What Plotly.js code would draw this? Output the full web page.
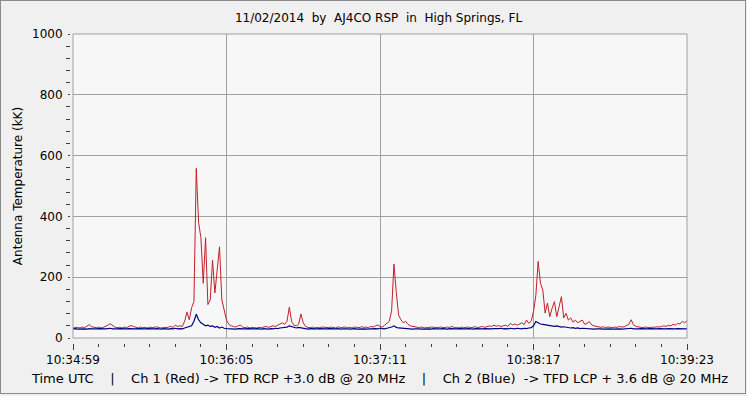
<!DOCTYPE html>
<html>
<head>
<meta charset="utf-8">
<script src="https://cdn.plot.ly/plotly-3.0.1.min.js"></script>
<style>
  html, body { margin: 0; padding: 0; background: #F0F0F0; }
  #chart { width: 747px; height: 396px; }
  #frame { position: absolute; left: 0; top: 0; width: 746px; height: 394px; box-sizing: border-box;
           border: 1px solid #8C8C8C; pointer-events: none; }
</style>
</head>
<body>
<div id="chart"></div>
<div id="frame"></div>
<script>
// ---- data (one sample per second, starting 10:34:59 UTC) ----
const tickLabels = ['10:34:59', '10:36:05', '10:37:11', '10:38:17', '10:39:23'];
const tickSeconds = [0, 66, 132, 198, 264];

// Ch 1 (Red) antenna temperature, kK
const ch1Red = [
  33,34,35,33,36,34,38,44,37,35,
  34,36,33,35,38,42,47,40,36,34,
  35,33,36,34,37,41,38,35,33,36,
  34,35,33,36,34,35,37,34,33,35,
  34,36,38,35,42,38,40,38,55,85,
  60,100,120,558,380,330,180,330,110,125,
  256,148,224,300,125,92,59,45,40,38,
  36,40,43,35,34,36,33,35,34,33,
  35,34,36,38,35,37,40,38,42,48,
  50,45,55,101,54,42,40,45,79,50,
  38,35,34,36,33,35,34,36,35,33,
  34,36,35,33,37,34,35,36,34,35,
  33,36,35,34,37,35,36,34,38,36,
  40,43,38,36,42,50,55,90,243,150,
  75,60,50,55,45,40,38,36,35,34,
  36,33,35,34,36,35,33,34,36,35,
  34,36,35,38,34,35,33,36,34,35,
  36,34,35,37,34,36,38,35,37,40,
  38,42,39,41,38,40,42,38,48,43,
  46,42,45,50,44,59,48,55,87,140,
  252,180,158,82,115,70,98,120,70,108,
  136,66,81,59,66,52,59,50,54,59,
  45,48,54,43,40,38,36,35,37,34,
  36,35,34,36,35,38,36,37,42,45,
  60,43,38,36,35,34,36,35,34,36,
  35,37,36,38,40,38,42,40,45,42,
  48,46,55,50,57
];

// Ch 2 (Blue) antenna temperature, kK
const ch2Blue = [
  30,31,29,30,31,30,29,31,30,29,
  30,31,30,29,30,31,32,30,29,30,
  31,30,29,30,31,30,29,30,31,30,
  29,30,31,30,29,30,31,30,29,31,
  30,29,31,30,32,30,31,30,33,35,
  38,40,55,78,60,50,45,40,42,38,
  40,35,38,33,36,32,31,30,31,30,
  29,31,30,29,30,31,30,29,30,31,
  30,29,31,30,29,31,30,32,31,33,
  34,35,36,40,38,34,33,35,34,31,
  30,29,31,30,29,30,31,30,29,30,
  31,30,29,30,31,29,30,31,30,29,
  30,31,29,30,31,30,29,30,31,30,
  31,30,32,31,30,32,33,36,40,35,
  33,32,31,30,31,30,29,30,31,30,
  29,30,31,30,29,31,30,29,30,31,
  30,29,31,30,29,30,31,30,29,30,
  31,30,29,31,30,29,30,31,30,31,
  30,31,30,31,32,30,31,30,32,31,
  30,32,31,30,32,31,33,34,40,54,
  50,46,45,44,42,40,39,38,40,37,
  36,37,35,34,33,34,32,33,31,32,
  31,30,31,30,29,30,31,30,29,30,
  31,30,29,30,31,30,29,30,31,30,
  32,30,29,30,31,30,29,30,31,30,
  29,30,31,30,29,30,31,30,31,30,
  31,30,31,30,31
];

// sample index = seconds since 10:34:59
const seconds = ch1Red.map((_, i) => i);

const NB = '\u00a0';
const gap = NB.repeat(4);
const titleText = '11/02/2014' + NB + NB + 'by' + NB + NB + 'AJ4CO RSP' + NB + NB + 'in' + NB + NB + 'High Springs, FL';
const xTitleText = 'Time UTC' + gap + '|' + gap +
  'Ch 1 (Red) -> TFD RCP +3.0 dB @ 20 MHz' + gap + '|' + gap +
  'Ch 2 (Blue)' + NB + NB + '-> TFD LCP + 3.6 dB @ 20 MHz';

const FONT = 'DejaVu Sans, Verdana, sans-serif';
const GRID = '#A0A0A0';
const TICK = '#404040';

const traces = [
  { x: seconds, y: ch1Red, type: 'scatter', mode: 'lines', name: 'Ch 1 (Red)',
    line: { color: '#C0202A', width: 1 }, hoverinfo: 'skip' },
  { x: seconds, y: ch2Blue, type: 'scatter', mode: 'lines', name: 'Ch 2 (Blue)',
    line: { color: '#000080', width: 1.2 }, hoverinfo: 'skip' }
];

const layout = {
  width: 747, height: 396,
  margin: { l: 70, r: 60, t: 34, b: 53, pad: 0 },
  paper_bgcolor: '#F0F0F0',
  plot_bgcolor: '#F7F7F7',
  showlegend: false,
  font: { family: FONT, size: 12, color: '#000000' },
  title: { text: titleText, font: { family: FONT, size: 12, color: '#000000' },
           x: 0.5, xref: 'paper', xanchor: 'center', y: 1 - 18 / 396, yref: 'container', yanchor: 'middle' },
  xaxis: {
    range: [0, 264], domain: [3 / 617, 1], anchor: 'free', position: 0,
    showline: false, zeroline: false,
    showgrid: true, gridcolor: GRID, gridwidth: 1,
    tickmode: 'array', tickvals: tickSeconds, ticktext: tickLabels,
    ticks: 'outside', ticklen: 6, tickwidth: 1, tickcolor: TICK,
    minor: { tickmode: 'linear', tick0: 0, dtick: 11, ticks: 'outside', ticklen: 3, tickcolor: TICK, showgrid: false },
    tickfont: { family: FONT, size: 12, color: '#000000' },
    title: { text: xTitleText, font: { family: FONT, size: 13, color: '#000000' }, standoff: 7 },
    fixedrange: true
  },
  yaxis: {
    range: [0, 1000], domain: [5 / 309, 1], anchor: 'free', position: 0,
    showline: false, zeroline: false,
    showgrid: true, gridcolor: GRID, gridwidth: 1,
    tick0: 0, dtick: 200,
    ticks: 'outside', ticklen: 2, tickwidth: 1, tickcolor: TICK,
    minor: { tick0: 0, dtick: 40, ticks: 'outside', ticklen: 4, tickcolor: TICK, showgrid: false },
    ticklabelstandoff: 3,
    tickfont: { family: FONT, size: 12, color: '#000000' },
    title: { text: 'Antenna Temperature (kK)', font: { family: FONT, size: 12, color: '#000000' }, standoff: 5 },
    fixedrange: true
  },
  shapes: [
    { type: 'rect', xref: 'x domain', yref: 'y domain', x0: 0, x1: 1, y0: 0, y1: 1,
      line: { color: GRID, width: 1 }, fillcolor: 'rgba(0,0,0,0)', layer: 'above' }
  ]
};

Plotly.newPlot('chart', traces, layout, { staticPlot: true, displayModeBar: false });
</script>
</body>
</html>
